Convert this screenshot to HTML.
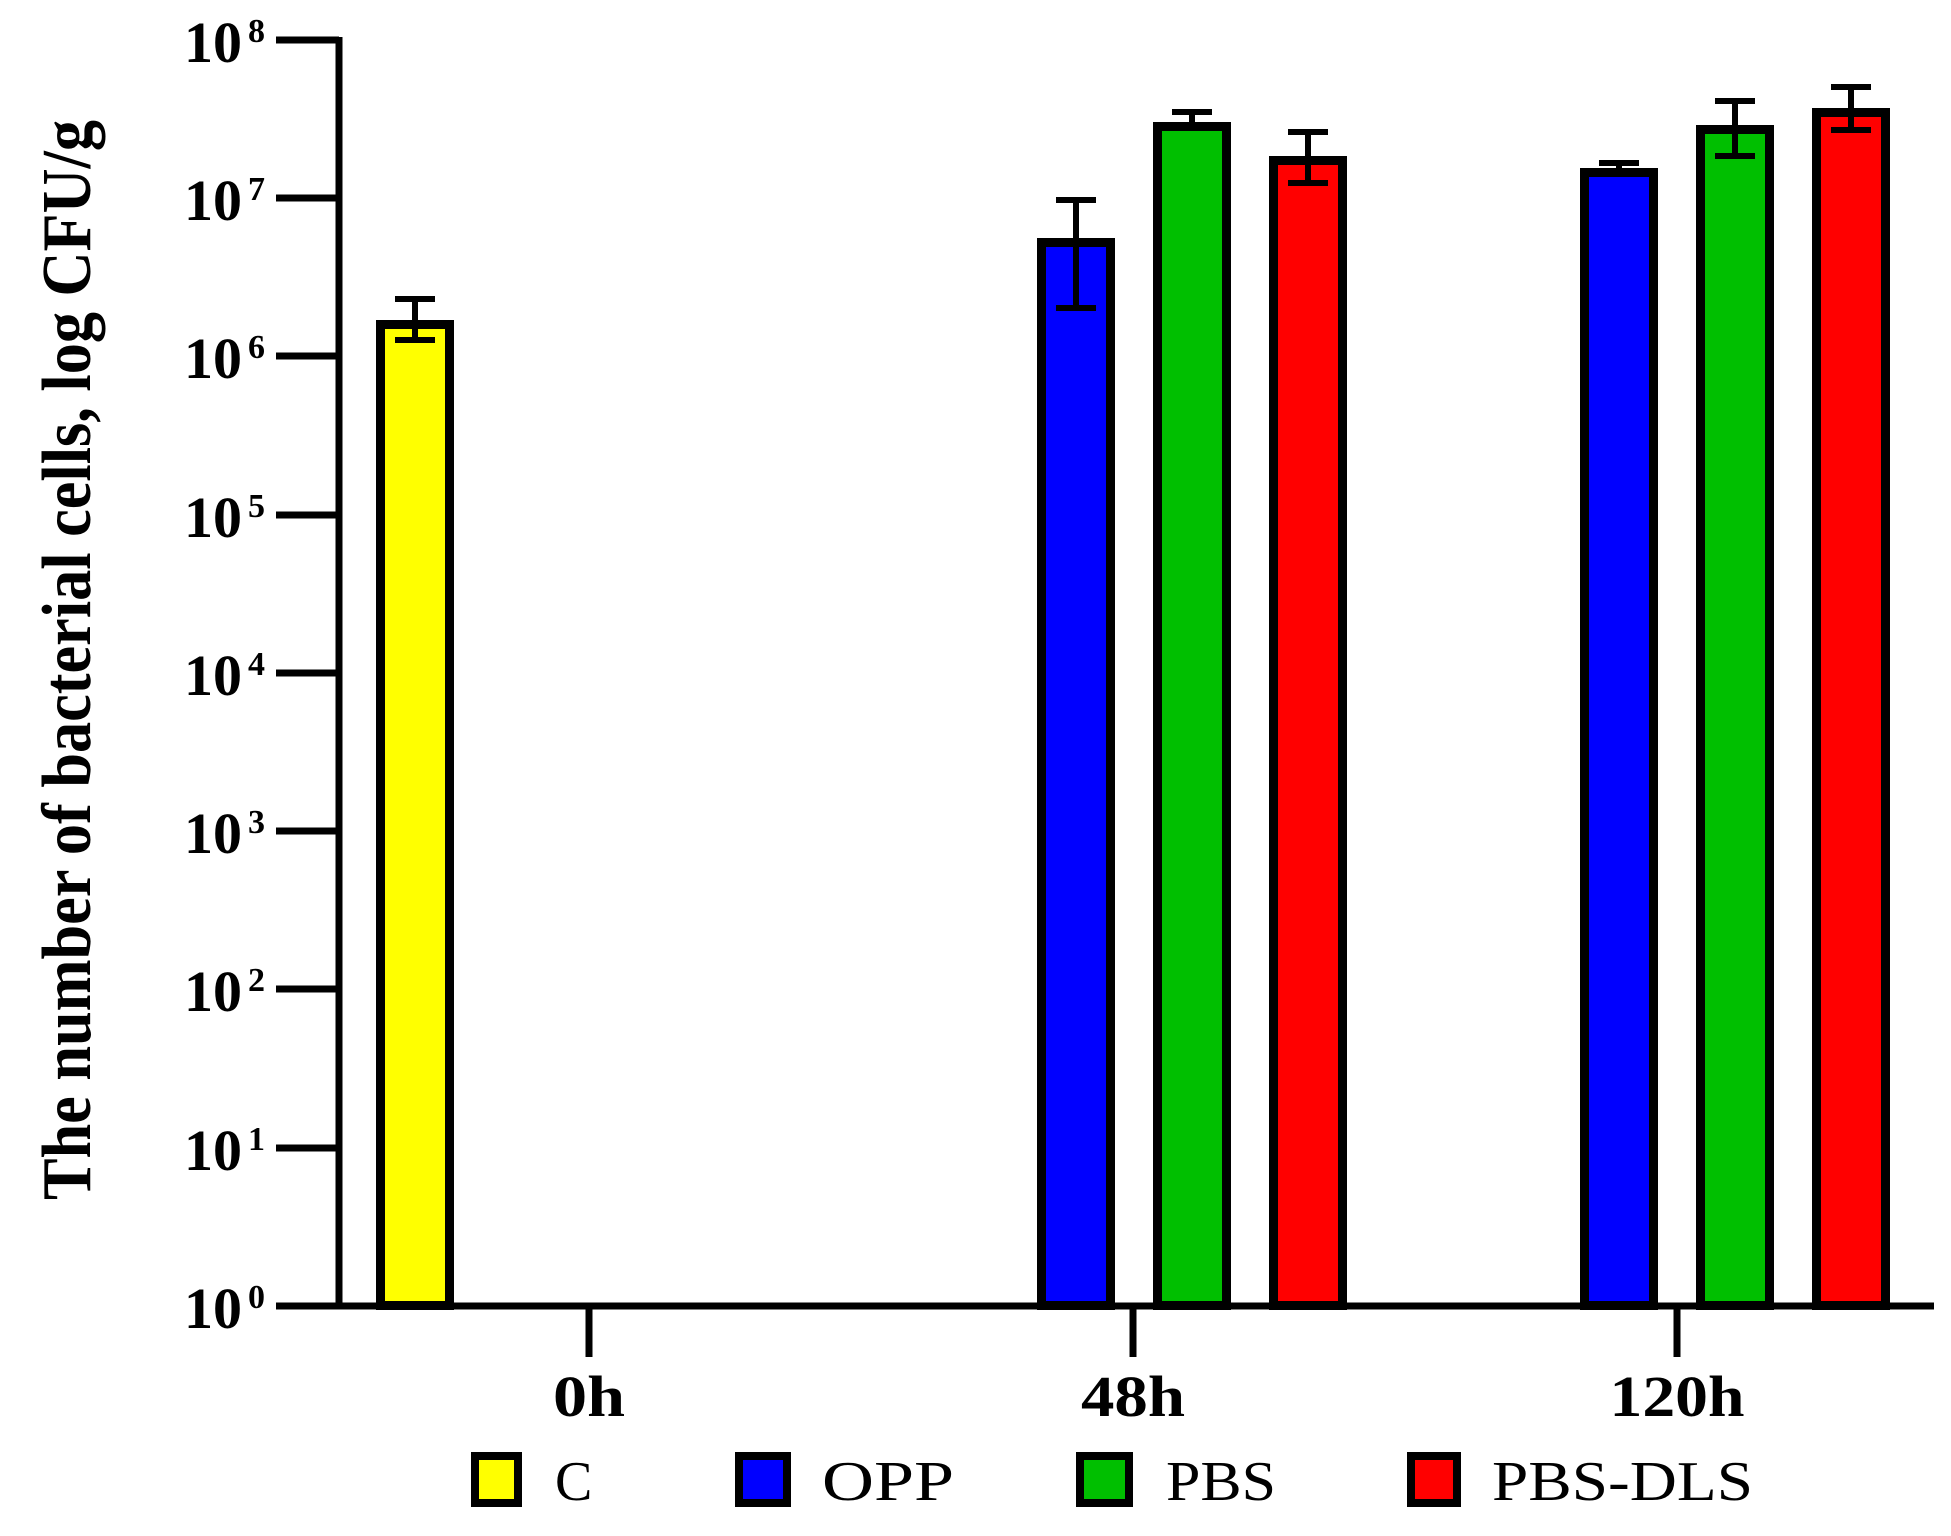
<!DOCTYPE html>
<html><head><meta charset="utf-8"><style>html,body{margin:0;padding:0;background:#fff}svg{display:block}</style></head>
<body>
<svg width="1951" height="1536" viewBox="0 0 1951 1536" xmlns="http://www.w3.org/2000/svg" font-family="Liberation Serif, serif">
<rect width="1951" height="1536" fill="#fff"/>
<!-- bars -->
<g stroke="#000" stroke-width="9">
<rect x="380.5" y="324.5" width="69" height="981" fill="#ffff00"/>
<rect x="1041.5" y="242.5" width="69" height="1063" fill="#0000ff"/>
<rect x="1157.5" y="126.5" width="69" height="1179" fill="#00bf00"/>
<rect x="1273.5" y="160.5" width="69" height="1145" fill="#ff0000"/>
<rect x="1584.5" y="172.5" width="69" height="1133" fill="#0000ff"/>
<rect x="1700.5" y="129.5" width="69" height="1176" fill="#00bf00"/>
<rect x="1816.5" y="112.5" width="69" height="1193" fill="#ff0000"/>
</g>
<!-- error bars -->
<g stroke="#000" stroke-width="6" fill="none">
<path d="M415 299V340M395 299H435M395 340H435"/>
<path d="M1076 200V308M1056 200H1096M1056 308H1096"/>
<path d="M1192 112V128M1172 112H1212M1172 128H1212"/>
<path d="M1308 132V183M1288 132H1328M1288 183H1328"/>
<path d="M1619 163V171M1599 163H1639M1599 171H1639"/>
<path d="M1735 101V156M1715 101H1755M1715 156H1755"/>
<path d="M1851 87V130M1831 87H1871M1831 130H1871"/>
</g>
<!-- axes -->
<g stroke="#000" stroke-width="7" fill="none">
<path d="M339 37V1309M335 1306H1934"/>
<path d="M276 40H339M276 198H339M276 356H339M276 515H339M276 673H339M276 831H339M276 989H339M276 1148H339M276 1306H339"/>
<path d="M589 1306V1357M1133 1306V1357M1677 1306V1357"/>
</g>
<!-- y tick labels -->
<g font-size="58" font-weight="bold" text-anchor="end" fill="#000">
<text x="242" y="62">10</text><text x="242" y="220">10</text><text x="242" y="378">10</text><text x="242" y="537">10</text><text x="242" y="695">10</text><text x="242" y="853">10</text><text x="242" y="1011">10</text><text x="242" y="1170">10</text><text x="242" y="1328">10</text>
</g>
<g font-size="34" font-weight="bold" text-anchor="start" fill="#000">
<text x="248" y="42">8</text><text x="248" y="200">7</text><text x="248" y="358">6</text><text x="248" y="517">5</text><text x="248" y="675">4</text><text x="248" y="833">3</text><text x="248" y="991">2</text><text x="248" y="1150">1</text><text x="248" y="1308">0</text>
</g>
<!-- y title -->
<text transform="translate(90,660) rotate(-90)" text-anchor="middle" font-size="70" font-weight="bold" textLength="1080" lengthAdjust="spacingAndGlyphs">The number of bacterial cells, log CFU/g</text>
<!-- x labels -->
<g font-size="58" font-weight="bold" text-anchor="middle">
<text x="589" y="1416" textLength="72" lengthAdjust="spacingAndGlyphs">0h</text><text x="1133" y="1416" textLength="104" lengthAdjust="spacingAndGlyphs">48h</text><text x="1677" y="1416" textLength="135" lengthAdjust="spacingAndGlyphs">120h</text>
</g>
<!-- legend -->
<g stroke="#000" stroke-width="8">
<rect x="475" y="1456" width="43" height="47" fill="#ffff00"/>
<rect x="739" y="1456" width="48" height="47" fill="#0000ff"/>
<rect x="1080" y="1456" width="49" height="47" fill="#00bf00"/>
<rect x="1411" y="1456" width="46" height="47" fill="#ff0000"/>
</g>
<g font-size="56">
<text x="555" y="1500">C</text><text x="822" y="1500" textLength="132" lengthAdjust="spacingAndGlyphs">OPP</text><text x="1166" y="1500" textLength="110" lengthAdjust="spacingAndGlyphs">PBS</text><text x="1492" y="1500" textLength="261" lengthAdjust="spacingAndGlyphs">PBS-DLS</text>
</g>
</svg>
</body></html>
